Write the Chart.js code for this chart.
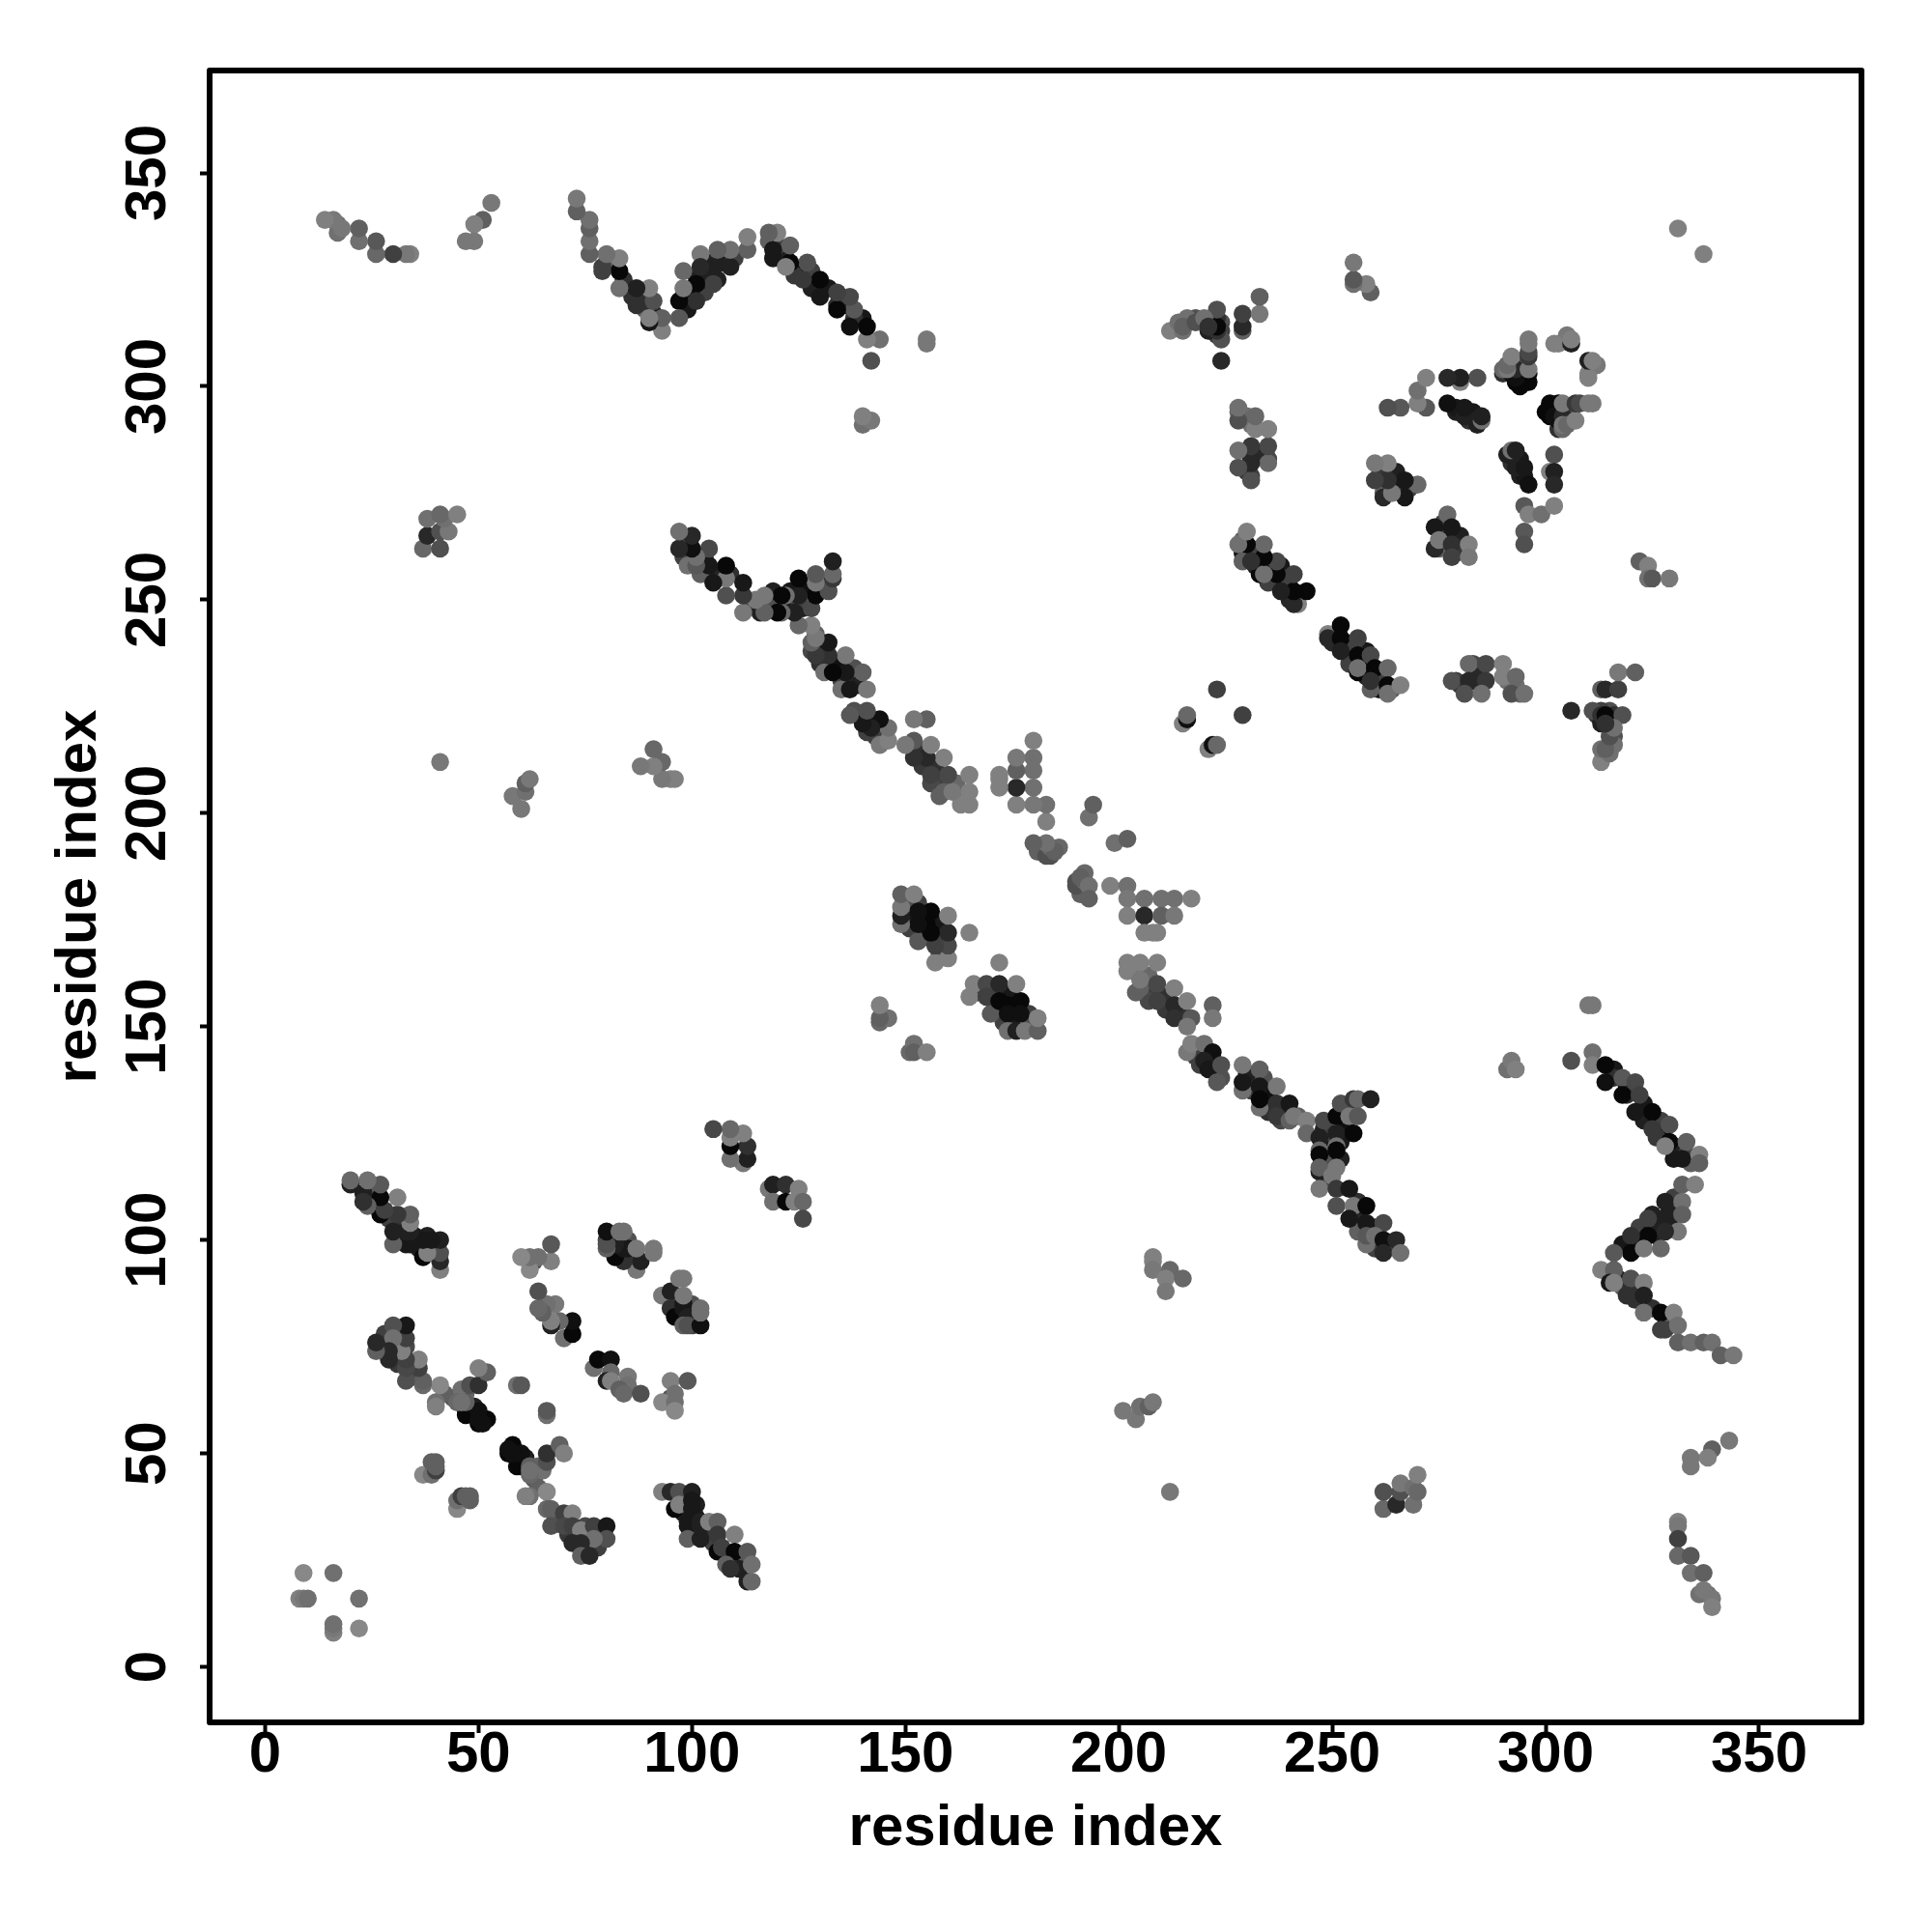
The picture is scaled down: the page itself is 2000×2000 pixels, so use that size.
<!DOCTYPE html>
<html><head><meta charset="utf-8">
<style>html,body{margin:0;padding:0;background:#fff}canvas{display:block}</style>
<script src="https://cdn.jsdelivr.net/npm/chart.js@4"></script>
</head><body><canvas id="c" width="2000" height="2000"></canvas>
<script>
const tickValues=[0,50,100,150,200,250,300,350];
const axisTitle="residue index";
// contacts read from the lower triangle (i>j); the map is symmetric
const residueI=[248,249,249,248,250,253,253,252,252,249,
256,256,256,260,260,263,256,
231,231,235,235,239,230,234,238,242,
218,219,221,223,222,224,
207,207,211,211,215,205,204,207,
171,171,174,174,175,179,179,173,171,167,176,
98,99,101,103,104,105,108,111,112,111,101,98,
68,69,71,73,75,75,78,75,78,
61,60,63,64,64,65,
316,316,319,319,323,323,327,327,330,330,333,334,326,
318,322,322,325,326,325,329,329,330,321,
317,318,320,321,325,329,328,
250,253,254,254,257,258,261,261,258,255,262,264,
276,276,280,280,276,275,279,
294,294,295,292,
301,305,306,301,303,
279,283,284,283,284,280,291,293,294,
312,315,315,315,316,313,316,315,313,
96,97,100,100,100,96,
191,192,191,192,191,
16,16,16,22,22,
45,45,46,47,48,48,
57,58,59,60,58,57,62,62,62,62,61,66,66,66,69,70,
66,66,
77,78,81,81,80,81,85,85,83,84,88,
95,95,99,96,93,96,96,
93,95,97,100,96,97,100,100,99,99,99,102,102,102,104,106,106,110,106,107,110,113,108,109,114,113,114,
66,67,67,70,72,70,72,74,77,80,80,77,72,74,74,76,
93,95,95,96,98,98,99,97,98,98,98,99,102,102,102,
118,119,119,122,122,124,125,126,126,
151,152,152,155,
165,166,169,169,172,172,170,172,176,177,174,177,174,176,178,181,181,
190,190,192,191,193,193,198,202,202,199,202,202,
206,210,213,217,206,210,213,206,208,209,
202,205,209,202,204,205,209,209,213,213,216,213,217,216,
222,222,
216,217,220,222,220,221,224,223,
229,229,229,233,233,233,233,237,237,240,237,240,241,244,244,
248,247,247,247,247,247,247,251,252,251,251,251,251,250,251,254,251,255,254,255,256,254,256,255,259,
258,258,262,258,258,260,262,265,262,266,
208,208,208,212,211,215,211,
201,204,205,207,208,
212,
262,262,265,266,269,266,269,270,270,
221,222,223,229,
249,249,252,252,256,252,256,259,256,256,260,263,259,259,263,263,266,
277,274,278,274,275,278,282,278,282,
282,286,278,282,286,281,285,290,290,293,292,295,
306,311,313,314,318,313,314,317,317,321,313,313,315,316,314,315,316,314,
322,324,324,325,329,
291,292,293,293,295,296,295,296,299,295,295,302,301,302,302,302,
300,302,303,302,303,304,304,304,305,307,304,307,308,311,310,
310,311,312,310,310,311,
311,310,291,292,293,306,311,311,314,314,318,321,318,322,321,325,325,329,329,328,333,332,336,336,
332,335,328,332,328,332,324,331,328,324,320,320,323,327,316,
313,316,315,316,320,323,319,323,323,327,330,327,331,331,334,337,339,341,344,
343,339,338,334,334,331,331,331,331,334,334,337,336,338,339,337,339,
337];
const residueJ=[126,123,119,123,125,127,131,123,119,114,
107,104,102,103,98,99,109,
138,135,134,130,131,139,138,128,129,
143,141,143,139,142,138,
159,156,157,154,153,159,163,162,
157,155,158,155,150,153,150,151,159,158,155,
36,37,35,32,30,29,26,26,25,23,38,39,
35,34,31,30,31,28,28,33,31,
49,47,44,42,47,46,
140,138,136,134,132,128,128,125,122,119,120,118,124,
99,100,103,103,101,106,104,107,110,98,
91,89,89,86,84,80,79,
240,240,237,235,235,232,232,229,238,239,231,229,
266,263,265,262,268,262,261,
283,279,279,282,
293,293,294,296,290,
231,231,233,235,232,230,231,230,228,
223,222,220,224,223,221,218,216,224,
85,86,85,82,80,87,
184,183,182,186,181,
8,9,10,9,16,
37,39,40,40,40,39,
50,52,47,50,50,51,47,45,46,40,40,41,48,50,52,50,
59,60,
70,72,72,69,67,67,68,66,65,64,64,
63,67,67,64,62,62,60,
41,41,41,41,37,38,39,37,34,33,30,30,34,33,34,34,31,31,27,28,27,27,24,23,24,20,20,
37,37,33,36,36,33,33,32,33,33,30,30,29,29,26,26,
87,88,84,82,85,84,82,91,91,87,80,80,80,84,83,
112,113,109,113,109,109,112,109,105,
144,146,144,144,
157,160,160,157,165,160,153,156,160,156,153,153,149,149,149,149,152,
183,184,184,185,183,180,183,183,180,193,194,176,
180,180,180,180,176,176,176,172,172,172,
165,165,165,163,158,161,160,156,159,155,156,152,152,150,
155,152,
144,146,146,144,142,140,141,137,
135,137,141,140,136,131,133,136,132,132,129,128,129,128,125,
128,124,121,120,116,117,112,129,132,125,122,121,117,115,112,112,108,108,105,133,133,129,129,125,133,
108,104,104,99,101,101,100,100,97,97,
96,95,93,93,91,91,88,
60,58,61,61,62,
41,
37,41,38,41,38,43,42,41,45,
215,216,216,223,
242,241,244,241,241,238,237,237,233,234,234,234,229,231,230,228,230,
270,267,267,262,264,263,263,260,260,
235,235,231,231,231,228,228,235,232,232,228,228,
224,224,223,223,223,229,229,229,233,233,212,215,214,216,215,218,220,221,
259,258,255,255,255,
284,285,285,281,281,277,272,270,270,266,263,284,280,280,277,272,
294,295,296,293,292,293,290,291,291,292,296,296,296,296,296,
303,305,305,302,306,306,
155,155,140,142,140,142,144,141,141,137,138,137,134,134,130,130,126,127,123,122,123,119,120,118,
113,113,109,109,105,106,105,102,102,101,101,97,98,98,97,
93,93,90,90,91,90,87,87,83,83,83,79,80,76,76,76,76,73,73,
53,51,49,49,47,34,33,30,26,26,22,22,17,17,16,18,14,
331];
const shade=[32,48,80,24,64,16,64,24,32,64,
32,40,96,48,64,64,48,
48,64,16,48,32,32,80,72,96,
64,64,32,48,48,80,
64,72,48,56,48,96,112,104,
32,32,24,8,24,64,80,64,64,72,8,
32,32,24,16,48,64,40,32,88,32,32,64,
72,80,56,64,64,64,64,72,48,
32,16,88,96,104,112,
24,48,16,48,24,32,64,16,32,24,64,96,56,
24,16,64,32,32,32,32,32,64,16,
32,96,48,48,48,96,64,
40,16,32,64,16,32,32,16,24,64,64,96,
24,32,32,48,64,96,56,
24,32,24,48,
8,32,80,8,48,
64,48,72,72,40,56,112,112,104,
56,32,48,80,48,32,80,96,64,
32,48,80,32,64,64,
96,104,96,104,96,
128,120,112,136,112,
136,112,64,96,96,96,
8,8,8,16,16,16,96,104,112,112,128,136,80,48,96,128,
112,88,
112,8,16,104,32,128,120,112,96,104,80,
80,128,88,112,136,112,136,
128,40,80,32,8,128,24,24,24,24,96,32,32,32,128,96,56,128,8,64,8,88,96,48,112,32,104,
104,96,80,64,128,72,64,128,64,24,80,112,40,40,96,40,
120,32,48,8,24,24,32,120,120,120,96,80,16,112,112,
120,32,112,48,8,128,128,104,72,
104,112,96,128,
128,128,72,64,128,40,88,8,128,8,16,16,112,32,120,96,128,
80,80,104,96,112,96,128,112,120,112,96,128,
112,112,112,128,40,96,120,128,128,128,
128,128,128,128,96,120,72,64,128,40,128,48,88,120,
96,120,
120,128,112,16,32,24,80,88,
112,24,120,96,24,112,8,120,48,24,56,96,120,128,104,
72,32,104,8,32,96,120,8,80,32,112,8,120,120,56,24,80,120,24,56,104,120,88,8,32,
8,24,72,112,88,112,16,40,40,112,
128,128,120,104,128,104,120,
120,120,112,96,120,
120,
104,80,40,80,112,120,112,104,128,
128,16,104,64,
128,40,8,8,64,32,8,72,8,112,8,104,96,48,8,112,128,
104,24,24,40,120,48,128,64,120,
104,72,80,40,56,80,112,128,128,104,80,112,
40,80,48,8,80,96,40,64,120,96,128,112,112,112,96,80,112,48,
96,128,112,88,120,
32,112,32,32,24,16,88,128,112,88,80,80,128,32,40,128,
8,8,8,16,16,40,104,120,104,128,120,56,72,120,120,
128,48,120,128,32,128,
120,120,112,120,128,80,112,128,8,16,88,72,8,64,24,8,56,80,8,128,96,24,128,96,
96,128,32,112,32,96,64,120,40,8,48,8,120,104,88,
128,96,24,128,80,128,48,32,112,8,128,64,112,96,112,96,112,96,120,
120,96,128,120,120,128,120,64,104,88,112,96,112,112,120,120,128,
128];

const FONT='"Liberation Sans", Arial, sans-serif';
const points=[...residueI.map((v,k)=>({x:v,y:residueJ[k]})),...residueJ.map((v,k)=>({x:v,y:residueI[k]}))];
const greys=[...shade,...shade].map(g=>`rgb(${g},${g},${g})`);

const frameAndYLabels={
  id:'frameAndYLabels',
  afterDraw(chart){
    const {ctx,chartArea:a,scales}=chart;
    ctx.save();
    ctx.strokeStyle='#000';ctx.lineWidth=6;ctx.lineJoin='round';
    ctx.strokeRect(a.left,a.top,a.right-a.left,a.bottom-a.top);
    ctx.fillStyle='#000';ctx.font='bold 60px '+FONT;
    ctx.textAlign='center';ctx.textBaseline='alphabetic';
    tickValues.forEach(v=>{
      ctx.save();
      ctx.translate(171,scales.y.getPixelForValue(v));
      ctx.rotate(-Math.PI/2);
      ctx.fillText(String(v),0,0);
      ctx.restore();
    });
    ctx.restore();
  }
};

new Chart(document.getElementById('c'),{
  type:'scatter',
  data:{datasets:[{data:points,pointRadius:9.3,pointHoverRadius:9.3,pointBorderWidth:0,pointBackgroundColor:greys,showLine:false}]},
  plugins:[frameAndYLabels],
  options:{
    responsive:false,animation:false,
    layout:{padding:{top:73,right:73,left:0,bottom:0}},
    plugins:{legend:{display:false},tooltip:{enabled:false},title:{display:false}},
    scales:{
      x:{type:'linear',min:-13,max:374,
        afterBuildTicks(s){s.ticks=tickValues.map(v=>({value:v}));},
        afterFit(s){s.height=217;},
        grid:{display:true,drawOnChartArea:false,drawTicks:true,tickLength:11,tickWidth:4,tickColor:'#000'},
        border:{display:false},
        ticks:{color:'#000',font:{family:FONT,size:60,weight:'bold'},padding:-13,maxRotation:0,minRotation:0,autoSkip:false},
        title:{display:true,text:axisTitle,color:'#000',font:{family:FONT,size:60,weight:'bold'},padding:{top:0,bottom:71}}},
      y:{type:'linear',min:-13,max:374,
        afterBuildTicks(s){s.ticks=tickValues.map(v=>({value:v}));},
        afterFit(s){s.width=217;},
        grid:{display:true,drawOnChartArea:false,drawTicks:true,tickLength:10,tickWidth:4,tickColor:'#000'},
        border:{display:false},
        ticks:{display:true,color:'rgba(0,0,0,0)',font:{family:FONT,size:60,weight:'bold'},padding:0,autoSkip:false},
        title:{display:true,text:axisTitle,color:'#000',font:{family:FONT,size:60,weight:'bold'},padding:{top:46,bottom:0}}}
    }
  }
});
</script></body></html>
